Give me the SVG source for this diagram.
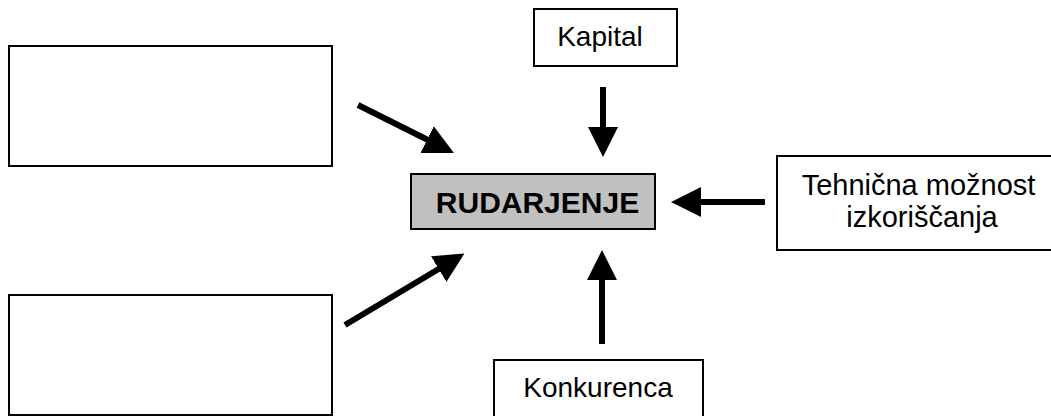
<svg xmlns="http://www.w3.org/2000/svg" width="1051" height="416" viewBox="0 0 1051 416">
<style>
.box{fill:#fff;stroke:#000;stroke-width:2}
.main{fill:#c0c0c0;stroke:#000;stroke-width:2}
.t{font-family:"Liberation Sans",Arial,sans-serif;font-size:28px;fill:#000;text-anchor:middle}
.w{font-size:29px}
.b{font-weight:bold;font-size:30px}
.arr{stroke:#000;stroke-width:6;fill:none;marker-end:url(#head)}
</style>
<defs>
<marker id="head" markerUnits="userSpaceOnUse" markerWidth="30" markerHeight="30" viewBox="0 0 30 30" refX="1" refY="15" orient="auto">
<path d="M0,0 L30,15 L0,30 z" fill="#000"/>
</marker>
</defs>
<rect width="1051" height="416" fill="#fff"/>
<g id="connectors">
<line class="arr" x1="358" y1="105" x2="428" y2="140"/>
<line class="arr" x1="345" y1="325" x2="439.5" y2="268.5"/>
<line class="arr" x1="603" y1="87" x2="603" y2="128"/>
<line class="arr" x1="765" y1="202" x2="700" y2="202"/>
<line class="arr" x1="602" y1="344" x2="602" y2="279"/>
</g>
<g id="node-top-left"><rect class="box" x="9" y="46" width="323" height="120"/></g>
<g id="node-bottom-left"><rect class="box" x="9" y="295" width="323" height="120"/></g>
<g id="node-kapital"><rect class="box" x="534" y="9" width="143" height="57"/><text class="t" x="600" y="46">Kapital</text></g>
<g id="node-rudarjenje"><rect class="main" x="411" y="174" width="244" height="55"/><text class="t b" x="537.5" y="213">RUDARJENJE</text></g>
<g id="node-tehnicna"><rect class="box" x="777" y="156" width="290" height="94"/><text class="t w" x="918.5" y="195">Tehnična možnost</text><text class="t w" x="922" y="227">izkoriščanja</text></g>
<g id="node-konkurenca"><rect class="box" x="494" y="360" width="209" height="70"/><text class="t" x="598" y="397">Konkurenca</text></g>
</svg>
